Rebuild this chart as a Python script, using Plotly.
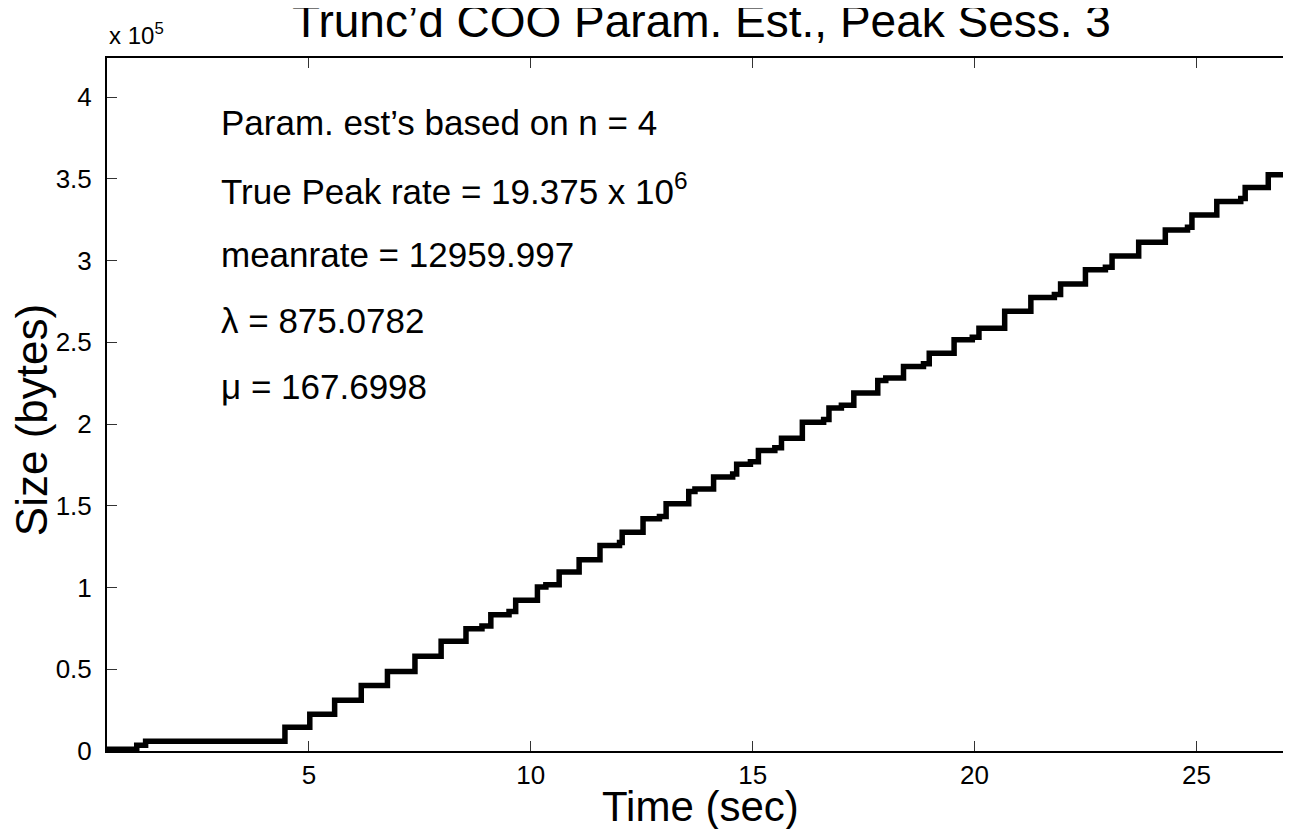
import plotly.graph_objects as go

# Step times (sec) and cumulative size (bytes)
time_s = [0.45, 1.12, 1.32, 4.46, 5.02, 5.58, 6.18, 6.77, 7.39, 7.98, 8.54, 8.90,
          9.10, 9.51, 9.66, 10.15, 10.34, 10.64, 11.09, 11.56, 12.00, 12.06, 12.53,
          12.90, 13.05, 13.56, 13.70, 14.12, 14.55, 14.64, 14.95, 15.13, 15.50, 15.65,
          16.12, 16.60, 16.72, 17.00, 17.28, 17.82, 18.00, 18.40, 18.85, 18.98, 19.54,
          19.95, 20.10, 20.68, 21.27, 21.80, 21.94, 22.50, 22.95, 23.10, 23.70, 24.30,
          24.80, 24.90, 25.46, 26.00, 26.10, 26.62, 27.20]
size_bytes = [1000, 3500, 6000, 14500, 22500, 31000, 40000, 48700, 57900, 67100, 74800, 76500,
              83400, 85400, 92200, 100300, 101700, 109500, 117000, 125800, 127500, 133900, 142100,
              143500, 151300, 158800, 160300, 167600, 169500, 175500, 177000, 183900, 185500, 191400,
              201200, 202800, 209800, 211500, 219000, 226700, 228200, 235300, 237000, 243400, 251600,
              253200, 258700, 269000, 277500, 279300, 285800, 294400, 296000, 302900, 311300, 318800,
              320500, 328000, 336200, 338000, 344800, 352500, 352500]

y_tick_vals = [0, 50000, 100000, 150000, 200000, 250000, 300000, 350000, 400000]
y_tick_text = ["0", "0.5", "1", "1.5", "2", "2.5", "3", "3.5", "4"]
x_tick_vals = [5, 10, 15, 20, 25]

title_text = "Trunc\u2019d COO Param. Est., Peak Sess. 3"
info_lines = [
    "Param. est\u2019s based on n = 4",
    "True Peak rate = 19.375 x 10<sup>6</sup>",
    "meanrate = 12959.997",
    "\u03bb = 875.0782",
    "\u03bc = 167.6998",
]

W, H = 1291, 829
L, R, T, B = 99, 3, 50, 86
pw, ph = W - L - R, H - T - B

fig = go.Figure()
fig.add_trace(go.Scatter(x=time_s, y=size_bytes, mode="lines",
                         line=dict(color="black", width=5.5, shape="hv"),
                         showlegend=False, hoverinfo="skip"))

font = "Liberation Sans, Arial, Helvetica, sans-serif"
axis_common = dict(showgrid=False, zeroline=False, showline=True, linecolor="black",
                   linewidth=2, mirror="ticks", ticks="inside", ticklen=10,
                   tickwidth=1, tickcolor="#333333",
                   tickfont=dict(family=font, size=26, color="black"))

fig.update_xaxes(range=[0.45, 27.2], tickvals=x_tick_vals, **axis_common)
fig.update_yaxes(range=[0, 424000], tickvals=y_tick_vals, ticktext=y_tick_text,
                 ticklabelstandoff=8, **axis_common)

annotations = []
line_py = [115, 181, 247, 313, 379]
for txt, py in zip(info_lines, line_py):
    annotations.append(dict(text=txt, xref="paper", yref="paper",
                            x=(211 - L) / pw, y=(H - B - py) / ph,
                            xanchor="left", yanchor="middle", showarrow=False,
                            font=dict(family=font, size=35, color="black")))
annotations.append(dict(text="x 10<sup>5</sup>", xref="paper", yref="paper",
                        x=0, y=(H - B - 26) / ph, xanchor="left", yanchor="middle",
                        showarrow=False, font=dict(family=font, size=24, color="black")))
annotations.append(dict(text="Time (sec)", xref="paper", yref="paper",
                        x=0.5, y=(H - B - 798) / ph, xanchor="center", yanchor="middle",
                        showarrow=False, font=dict(family=font, size=42, color="black")))
annotations.append(dict(text="Size (bytes)", xref="paper", yref="paper",
                        x=(23 - L) / pw, y=(H - B - 412) / ph, xanchor="center", yanchor="middle",
                        textangle=-90, showarrow=False,
                        font=dict(family=font, size=44, color="black")))

fig.update_layout(
    width=W, height=H,
    margin=dict(l=L, r=R, t=T, b=B),
    paper_bgcolor="white", plot_bgcolor="white",
    title=dict(text=title_text, x=(L + pw / 2) / W, xanchor="center",
               y=1 - 13 / H, yanchor="middle",
               font=dict(family=font, size=46, color="black")),
    annotations=annotations,
)

fig.write_html("out.html")
